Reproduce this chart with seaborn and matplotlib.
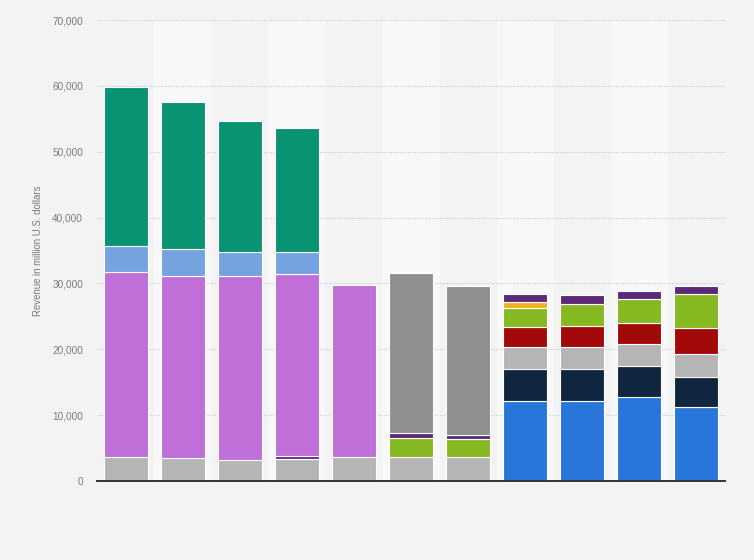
import numpy as np
import pandas as pd
import matplotlib
matplotlib.use("Agg")
import matplotlib.pyplot as plt
import seaborn as sns
from matplotlib.ticker import FuncFormatter

categories = ["B1", "B2", "B3", "B4", "B5", "B6", "B7", "B8", "B9", "B10", "B11"]

# stacked series, bottom to top
blue       = [0, 0, 0, 0, 0, 0, 0, 12220, 12220, 12730, 11310]
navy       = [0, 0, 0, 0, 0, 0, 0, 4780, 4780, 4770, 4470]
grey       = [3650, 3500, 3200, 3300, 3650, 3600, 3600, 3350, 3350, 3350, 3440]
red        = [0, 0, 0, 0, 0, 0, 0, 3040, 3240, 3190, 4060]
green      = [0, 0, 0, 0, 0, 2950, 2850, 2840, 3350, 3660, 5130]
yellow     = [0, 0, 0, 0, 0, 0, 0, 970, 0, 0, 0]
purple     = [0, 0, 0, 500, 0, 700, 550, 1260, 1360, 1160, 1270]
magenta    = [28050, 27700, 28000, 27700, 26180, 0, 0, 0, 0, 0, 0]
light_blue = [3950, 4050, 3540, 3240, 0, 0, 0, 0, 0, 0, 0]
teal       = [24110, 22230, 19850, 18830, 0, 0, 0, 0, 0, 0, 0]
dark_grey  = [0, 0, 0, 0, 0, 24350, 22680, 0, 0, 0, 0]

series = [
    ("blue", blue, "#2876d9"),
    ("navy", navy, "#10263e"),
    ("grey", grey, "#b5b5b5"),
    ("red", red, "#a20a0a"),
    ("green", green, "#86b822"),
    ("yellow", yellow, "#ecb21f"),
    ("purple", purple, "#5e2a78"),
    ("magenta", magenta, "#c06fd8"),
    ("light_blue", light_blue, "#74a3e0"),
    ("teal", teal, "#0a9373"),
    ("dark_grey", dark_grey, "#8f8f8f"),
]

bg = "#f3f3f3"
fig = plt.figure(figsize=(7.54, 5.6), dpi=100, facecolor=bg)
ax = fig.add_axes([97/754, 1-481/560, (725-97)/754, (481-20)/560])
ax.set_facecolor(bg)

# alternating column bands
for i in range(len(categories)):
    if i % 2 == 1:
        ax.axvspan(i-0.5, i+0.5, color="#f8f8f8", zorder=0, lw=0)

cum = np.zeros(len(categories))
for name, vals, col in series:
    vals = np.array(vals, dtype=float)
    idx = [i for i in range(len(categories)) if vals[i] > 0]
    if idx:
        df = pd.DataFrame({"cat": [categories[i] for i in idx], "val": vals[idx]})
        sns.barplot(data=df, x="cat", y="val", order=categories, color=col,
                    bottom=cum[idx], width=0.77, errorbar=None, ax=ax,
                    edgecolor="white", linewidth=0.8, saturation=1, zorder=3)
    cum += vals

ax.set_xlim(-0.5, len(categories)-0.5)
ax.set_ylim(0, 70000)
ax.set_yticks(np.arange(0, 70001, 10000))
ax.yaxis.set_major_formatter(FuncFormatter(lambda v, p: f"{int(v):,}"))
ax.set_xticks([])
ax.set_xlabel("")
ax.set_ylabel("Revenue in million U.S. dollars", color="#7a7a7a", fontsize=6.9,
              family="Liberation Sans", labelpad=7)
ax.tick_params(axis="y", length=0, labelsize=7.2, labelcolor="#7a7a7a", pad=10)
for lab in ax.get_yticklabels():
    lab.set_family("Liberation Sans")
ax.grid(axis="y", linestyle=(0, (1, 1.2)), color="#cccccc", linewidth=0.8, zorder=1)
ax.set_axisbelow(True)
for s in ["top", "right", "left"]:
    ax.spines[s].set_visible(False)
ax.spines["bottom"].set_color("#333333")
ax.spines["bottom"].set_linewidth(1.4)
ax.spines["bottom"].set_zorder(5)

fig.savefig("out.png", dpi=100, facecolor=bg)
